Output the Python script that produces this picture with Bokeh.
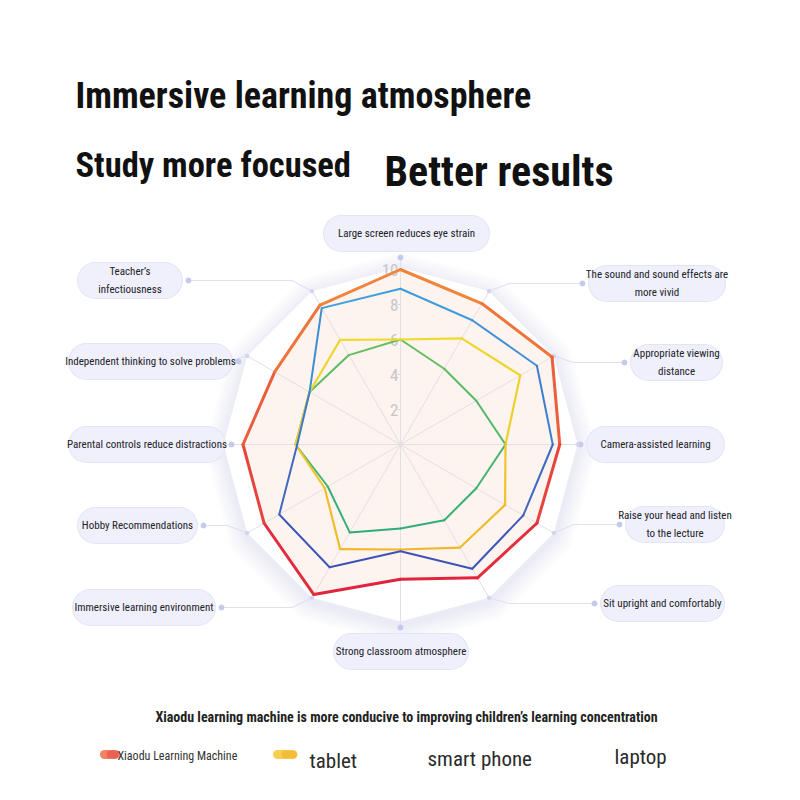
import numpy as np
from bokeh.plotting import figure
from bokeh.models import Range1d
from bokeh.core.properties import value
from bokeh.embed import file_html
from bokeh.resources import INLINE

# ---------------- data ----------------
categories = [
    "Large screen reduces eye strain",
    "The sound and sound effects are\nmore vivid",
    "Appropriate viewing\ndistance",
    "Camera-assisted learning",
    "Raise your head and listen\nto the lecture",
    "Sit upright and comfortably",
    "Strong classroom atmosphere",
    "Immersive learning environment",
    "Hobby Recommendations",
    "Parental controls reduce distractions",
    "Independent thinking to solve problems",
    "Teacher\u2019s\ninfectiousness",
]
xiaodu = [10.0, 9.3, 10.0, 9.1, 9.0, 8.8, 7.7, 9.9, 9.0, 9.0, 8.3, 9.2]
laptop = [8.9, 8.2, 9.0, 8.7, 8.1, 8.2, 6.1, 8.1, 8.0, 5.9, 6.0, 9.0]
tablet = [6.0, 7.0, 7.9, 6.0, 6.9, 6.8, 6.0, 6.9, 5.0, 6.0, 6.0, 6.9]
smart_phone = [6.0, 5.0, 5.0, 6.0, 5.0, 5.0, 4.8, 5.8, 4.8, 6.0, 6.0, 5.9]
radial_ticks = [2, 4, 6, 8, 10]
max_value = 10
series_names = ["Xiaodu Learning Machine", "tablet", "smart phone", "laptop"]
headline_1 = "Immersive learning atmosphere"
headline_2 = "Study more focused"
headline_3 = "Better results"
subtitle = "Xiaodu learning machine is more conducive to improving children\u2019s learning concentration"

# ---------------- layout / style ----------------
FONT = "Roboto Condensed"
CX, CY = 400.0, 444.0
UNIT = 17.5                     # px per value unit
R_OUT = 177.0                   # outer polygon radius (px)
n = len(categories)
ang = np.deg2rad(90 - 360.0 / n * np.arange(n))

def polar(vals, extra=0.0):
    r = np.asarray(vals, float) * UNIT + extra
    return CX + r * np.cos(ang), CY - r * np.sin(ang)

def hex2rgb(h):
    h = h.lstrip("#")
    return np.array([int(h[i:i + 2], 16) for i in (0, 2, 4)], float)

def lerp(c1, c2, t):
    c = hex2rgb(c1) * (1 - t) + hex2rgb(c2) * t
    return "#%02x%02x%02x" % tuple(int(round(v)) for v in c)

p = figure(width=784, height=784, output_backend="svg", toolbar_location=None,
           x_range=Range1d(0, 784), y_range=Range1d(784, 0),
           min_border=0, outline_line_color=None, background_fill_color="white")
p.axis.visible = False
p.grid.visible = False

# shadow + outer polygon
full = np.full(n, max_value)
ox, oy = polar(full, extra=R_OUT - max_value * UNIT)
for d in range(20, 0, -2):
    sx, sy = polar(full, extra=R_OUT - max_value * UNIT + d)
    p.patch(sx, sy + 4, fill_color="#b0b4ea", fill_alpha=0.026, line_color=None)
p.patch(ox, oy, fill_color="white", line_color=None)

# xiaodu area fill
fx, fy = polar(xiaodu)
p.patch(fx, fy, fill_color="#fbe4d9", fill_alpha=0.42, line_color=None)

# spokes
p.segment(x0=np.full(n, CX), y0=np.full(n, CY), x1=ox, y1=oy, line_color="#e2e0e4", line_width=1)

# connectors from outer vertices to label pills (layout)
pill_spans = [  # (x0, x1, yc) per category, pixel layout of label boxes
    (323, 489, 233), (588, 725, 283), (630, 722, 362), (586, 724, 444),
    (625, 724, 524), (600, 724, 603), (333, 468, 651), (72, 215, 607),
    (77, 197, 525), (68, 225, 444), (68, 232, 361), (77, 182, 280),
]
conn_x, conn_y, dot_x, dot_y = [], [], [], []
for i in range(n):
    vx, vy = ox[i], oy[i]
    x0, x1, yc = pill_spans[i]
    c = np.cos(ang[i])
    if abs(c) < 1e-6:  # top / bottom
        ey = vy - 10 if np.sin(ang[i]) > 0 else vy + 6
        conn_x.append([vx, vx]); conn_y.append([vy, ey])
        dot_x.append(vx); dot_y.append(ey)
    else:
        side = 1 if c > 0 else -1
        edge = x0 - 6 if side > 0 else x1 + 6
        if abs(abs(c) - 1) < 1e-6:
            conn_x.append([vx, edge]); conn_y.append([vy, yc])
            dot_x.append(edge); dot_y.append(yc)
        else:
            ex = vx + side * 20
            conn_x.append([vx, ex, edge]); conn_y.append([vy, yc, yc])
            dot_x.append(edge); dot_y.append(yc)
p.multi_line(conn_x, conn_y, line_color="#dfe1f1", line_width=1.2)
p.scatter(dot_x, dot_y, size=5, color="#c6c9ec")
p.scatter(list(ox[1:6]) + list(ox[7:12]), list(oy[1:6]) + list(oy[7:12]), size=3.5, color="#d3d5ee")

# radial tick labels
tv = np.asarray(radial_ticks, float)
p.text(x=np.full(len(tv), CX - 2), y=CY - tv * UNIT, text=[str(int(t)) for t in tv],
       text_align="right", text_baseline="middle", text_color="#c6c6ca",
       text_font=value(FONT), text_font_size="17px")
p.segment(x0=np.full(len(tv), CX - 3), y0=CY - tv * UNIT, x1=np.full(len(tv), CX),
          y1=CY - tv * UNIT, line_color="#d5d5d8", line_width=1)

# series lines with vertical gradient (colour per edge)
def draw_series(vals, c_top, c_bot, lw):
    x, y = polar(vals)
    x2, y2 = np.roll(x, -1), np.roll(y, -1)
    mid = (y + y2) / 2
    t = np.clip((mid - (CY - max_value * UNIT)) / (2 * max_value * UNIT), 0, 1)
    cols = [lerp(c_top, c_bot, ti) for ti in t]
    p.segment(x0=x, y0=y, x1=x2, y1=y2, line_color=cols, line_width=lw, line_cap="round", line_join="round")

draw_series(smart_phone, "#80c455", "#14a582", 2)
draw_series(tablet, "#ece52b", "#f2ad2d", 2.2)
draw_series(laptop, "#3ea6e0", "#3f3fae", 2)
draw_series(xiaodu, "#f28a3a", "#e0183f", 3)

# label pills
for i in range(n):
    x0, x1, yc = pill_spans[i]
    p.segment(x0=[x0 + 18], y0=[yc], x1=[x1 - 18], y1=[yc], line_color="#e3e5f4", line_width=37, line_cap="round")
    p.segment(x0=[x0 + 18], y0=[yc], x1=[x1 - 18], y1=[yc], line_color="#eff0fb", line_width=35, line_cap="round")
p.text(x=[(s[0] + s[1]) / 2 for s in pill_spans], y=[s[2] for s in pill_spans], text=categories,
       text_align="center", text_baseline="middle", text_color="#222227",
       text_font=value(FONT), text_font_size="11px", text_line_height=1.4)

# headlines
p.text(x=[75], y=[95], text=[headline_1], text_font=value(FONT), text_font_size="36px",
       text_font_style="bold", text_color="#111111", text_baseline="alphabetic")
p.text(x=[75], y=[164], text=[headline_2], text_font=value(FONT), text_font_size="34.5px",
       text_font_style="bold", text_color="#111111", text_baseline="alphabetic")
p.text(x=[384], y=[171], text=[headline_3], text_font=value(FONT), text_font_size="42px",
       text_font_style="bold", text_color="#111111", text_baseline="alphabetic")

# subtitle
p.text(x=[406], y=[716], text=[subtitle], text_font=value(FONT), text_font_size="14px",
       text_font_style="bold", text_color="#222222", text_align="center", text_baseline="middle")

# legend
p.segment(x0=[104], y0=[754], x1=[114], y1=[754], line_color="#ef7048", line_width=9, line_cap="round", line_alpha=0.85)
p.segment(x0=[110], y0=[754], x1=[116], y1=[754], line_color="#e84a4a", line_width=8, line_cap="round", line_alpha=0.6)
p.segment(x0=[277], y0=[754], x1=[292], y1=[754], line_color="#f7c531", line_width=9, line_cap="round", line_alpha=0.85)
p.segment(x0=[285], y0=[754], x1=[293], y1=[754], line_color="#f3b02c", line_width=8, line_cap="round", line_alpha=0.6)
p.text(x=[117], y=[755], text=[series_names[0]], text_font=value(FONT), text_font_size="12px",
       text_color="#333333", text_baseline="middle")
p.text(x=[309, 427, 614], y=[760, 758, 756], text=series_names[1:], text_font=value(FONT),
       text_font_size="21px", text_color="#2a2a2a", text_baseline="middle")

open("out.html", "w").write(file_html(p, INLINE))
